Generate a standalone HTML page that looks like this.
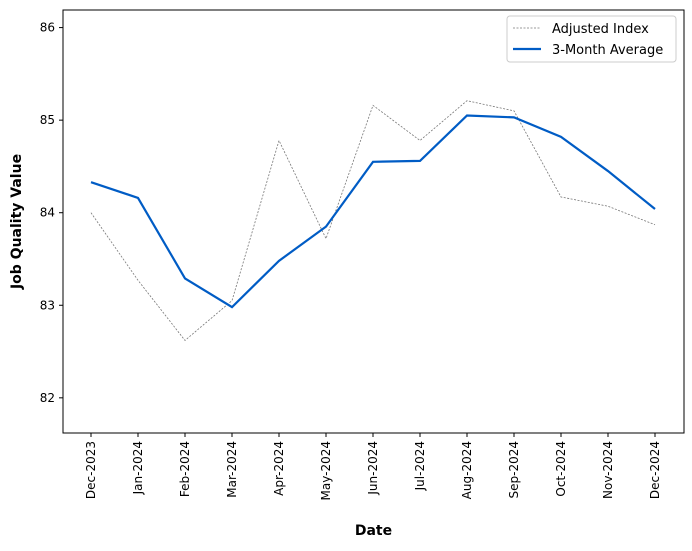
<!DOCTYPE html>
<html><head><meta charset="utf-8"><style>
body{margin:0;background:#fff;font-family:"DejaVu Sans","Liberation Sans",sans-serif;}
svg text{font-family:"DejaVu Sans","Liberation Sans",sans-serif;}
</style></head><body>
<svg id="chart" width="692" height="547" xmlns="http://www.w3.org/2000/svg"></svg>
<script>
const categories=["Dec-2023","Jan-2024","Feb-2024","Mar-2024","Apr-2024","May-2024","Jun-2024","Jul-2024","Aug-2024","Sep-2024","Oct-2024","Nov-2024","Dec-2024"];
const adjustedIndex=[84.0,83.27,82.62,83.05,84.78,83.72,85.16,84.78,85.21,85.10,84.17,84.07,83.87];
const avg3Month=[84.33,84.16,83.29,82.98,83.48,83.85,84.55,84.56,85.05,85.03,84.82,84.45,84.04];
const yTicks=[82,83,84,85,86];
const NS="http://www.w3.org/2000/svg";
const svg=document.getElementById('chart');
const L=63,R=684,T=10,B=433,yMin=81.62,yMax=86.19;
const xS=i=>91+i*(655-91)/(categories.length-1);
const yS=v=>B-(v-yMin)/(yMax-yMin)*(B-T);
function mk(tag,attrs,parent){const e=document.createElementNS(NS,tag);for(const k in attrs)e.setAttribute(k,attrs[k]);(parent||svg).appendChild(e);return e;}
const frame=mk('rect',{x:L,y:T,width:R-L,height:B-T,fill:'none',stroke:'#000','stroke-width':1});


yTicks.forEach(v=>{const y=yS(v);
 const t=mk('line',{x1:L-4,x2:L,y1:y,y2:y,stroke:'#000'});
 
 
 const tx=mk('text',{x:L-8,y:y+4,'text-anchor':'end','font-size':12});tx.textContent=v;
 
 
});
categories.forEach((c,i)=>{const x=xS(i);
 const t=mk('line',{x1:x,x2:x,y1:B,y2:B+4,stroke:'#000'});
 
 
 const tx=mk('text',{x:0,y:0,'text-anchor':'end','font-size':12,transform:`translate(${x+4},${B+8}) rotate(-90)`});tx.textContent=c;
 
 
});
const l1=mk('polyline',{points:adjustedIndex.map((v,i)=>xS(i)+','+yS(v)).join(' '),fill:'none',stroke:'#777','stroke-width':0.8,'stroke-dasharray':'2,1.5'});


const l2=mk('polyline',{points:avg3Month.map((v,i)=>xS(i)+','+yS(v)).join(' '),fill:'none',stroke:'#005cc5','stroke-width':2.2});


const xt=mk('text',{x:(L+R)/2,y:535,'text-anchor':'middle','font-size':14,'font-weight':'bold'});xt.textContent='Date';


const yt=mk('text',{x:0,y:0,'text-anchor':'middle','font-size':14,'font-weight':'bold',transform:`translate(21,${(T+B)/2}) rotate(-90)`});yt.textContent='Job Quality Value';


const lg=mk('g',{});


mk('rect',{x:507,y:16,width:169,height:46,rx:3,fill:'#fff',stroke:'#ccc'},lg);
mk('line',{x1:513,x2:541,y1:28,y2:28,stroke:'#777','stroke-width':0.8,'stroke-dasharray':'2,1.5'},lg);
const e1=mk('text',{x:552,y:33,'font-size':13},lg);e1.textContent='Adjusted Index';


mk('line',{x1:513,x2:541,y1:49,y2:49,stroke:'#005cc5','stroke-width':2.2},lg);
const e2=mk('text',{x:552,y:54,'font-size':13},lg);e2.textContent='3-Month Average';


</script>
</body></html>
